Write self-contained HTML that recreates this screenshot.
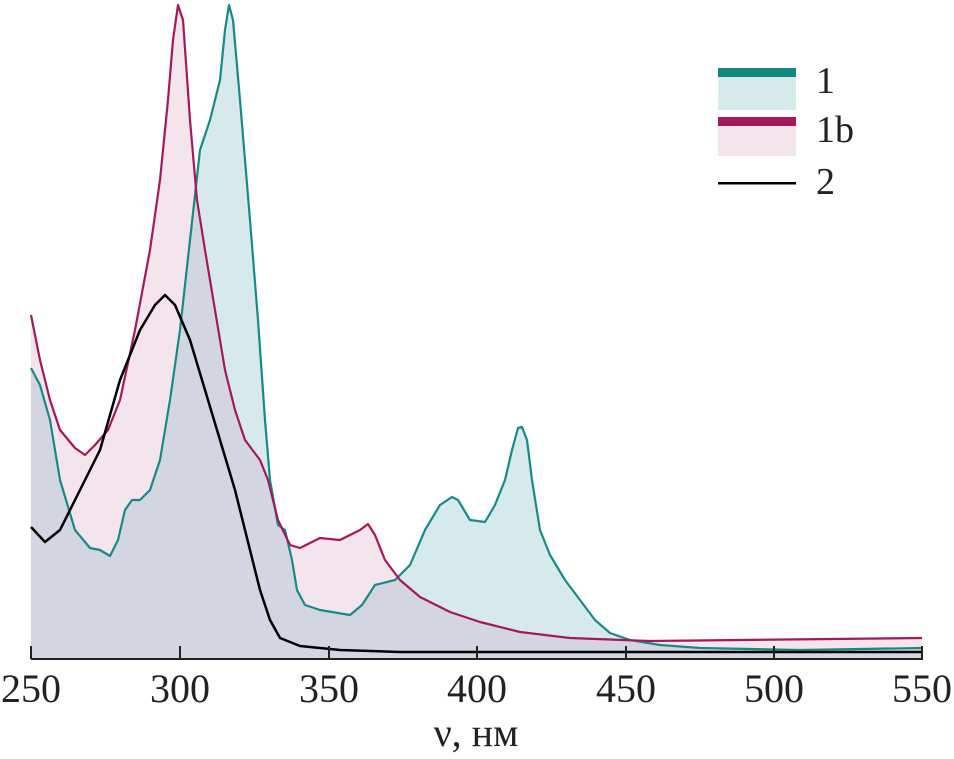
<!DOCTYPE html>
<html><head><meta charset="utf-8"><style>body{margin:0;background:#fff}</style></head><body>
<svg width="954" height="754" viewBox="0 0 954 754" xmlns="http://www.w3.org/2000/svg" style="font-family:'Liberation Serif',serif">
<defs>
<clipPath id="ct"><path id="tealArea" d="M31,659 L31,368 L40,385 L50,420 L60,480 L75,530 L90,548 L100,550 L110,556 L118,540 L125,510 L132,500 L140,500 L150,490 L160,460 L170,400 L180,330 L190,240 L200,150 L210,120 L220,80 L225,30 L229,5 L233,20 L240,100 L250,220 L258,320 L265,420 L270,480 L278,525 L285,530 L292,560 L297,590 L305,605 L320,610 L350,615 L362,605 L375,585 L395,580 L410,565 L425,530 L440,505 L452,497 L458,500 L470,520 L485,522 L495,505 L505,480 L512,450 L518,428 L522,427 L527,440 L532,480 L540,530 L550,555 L565,580 L580,600 L595,620 L610,633 L630,640 L660,645 L700,648 L800,650 L922,648 L922,659 Z"/></clipPath>
</defs>
<path d="M31,659 L31,368 L40,385 L50,420 L60,480 L75,530 L90,548 L100,550 L110,556 L118,540 L125,510 L132,500 L140,500 L150,490 L160,460 L170,400 L180,330 L190,240 L200,150 L210,120 L220,80 L225,30 L229,5 L233,20 L240,100 L250,220 L258,320 L265,420 L270,480 L278,525 L285,530 L292,560 L297,590 L305,605 L320,610 L350,615 L362,605 L375,585 L395,580 L410,565 L425,530 L440,505 L452,497 L458,500 L470,520 L485,522 L495,505 L505,480 L512,450 L518,428 L522,427 L527,440 L532,480 L540,530 L550,555 L565,580 L580,600 L595,620 L610,633 L630,640 L660,645 L700,648 L800,650 L922,648 L922,659 Z" fill="#d6eaeb"/>
<path id="pk" d="M31,659 L31,315 L40,360 L50,400 L60,430 L75,448 L85,455 L95,445 L108,430 L120,400 L135,330 L150,250 L160,180 L168,100 L173,40 L178,5 L183,20 L190,120 L197,200 L205,250 L215,310 L225,370 L235,410 L245,440 L260,460 L268,480 L278,520 L290,545 L300,548 L320,538 L340,540 L360,530 L368,524 L375,535 L385,560 L400,580 L420,597 L450,612 L480,622 L520,632 L570,638 L650,641 L922,638 L922,659 Z" fill="#f4e4ec"/>
<path d="M31,659 L31,315 L40,360 L50,400 L60,430 L75,448 L85,455 L95,445 L108,430 L120,400 L135,330 L150,250 L160,180 L168,100 L173,40 L178,5 L183,20 L190,120 L197,200 L205,250 L215,310 L225,370 L235,410 L245,440 L260,460 L268,480 L278,520 L290,545 L300,548 L320,538 L340,540 L360,530 L368,524 L375,535 L385,560 L400,580 L420,597 L450,612 L480,622 L520,632 L570,638 L650,641 L922,638 L922,659 Z" fill="#d3d6e0" clip-path="url(#ct)"/>
<g fill="none" stroke-width="2.2" stroke-linejoin="round">
<polyline stroke="#188a86" points="31,368 40,385 50,420 60,480 75,530 90,548 100,550 110,556 118,540 125,510 132,500 140,500 150,490 160,460 170,400 180,330 190,240 200,150 210,120 220,80 225,30 229,5 233,20 240,100 250,220 258,320 265,420 270,480 278,525 285,530 292,560 297,590 305,605 320,610 350,615 362,605 375,585 395,580 410,565 425,530 440,505 452,497 458,500 470,520 485,522 495,505 505,480 512,450 518,428 522,427 527,440 532,480 540,530 550,555 565,580 580,600 595,620 610,633 630,640 660,645 700,648 800,650 922,648"/>
<polyline stroke="#a3195b" points="31,315 40,360 50,400 60,430 75,448 85,455 95,445 108,430 120,400 135,330 150,250 160,180 168,100 173,40 178,5 183,20 190,120 197,200 205,250 215,310 225,370 235,410 245,440 260,460 268,480 278,520 290,545 300,548 320,538 340,540 360,530 368,524 375,535 385,560 400,580 420,597 450,612 480,622 520,632 570,638 650,641 922,638"/>
<polyline stroke="#000" stroke-width="2.5" points="31,527 45,542 60,530 80,490 100,450 120,380 140,330 155,305 165,295 175,305 190,340 205,390 220,440 235,490 250,550 260,590 270,620 280,638 300,646 340,650 400,652 922,652"/>
</g>
<g stroke="#222" stroke-width="2">
<line x1="31" y1="659" x2="923" y2="659"/>
<line x1="31" y1="646" x2="31" y2="659"/><line x1="180" y1="646" x2="180" y2="659"/><line x1="329" y1="646" x2="329" y2="659"/><line x1="477" y1="646" x2="477" y2="659"/><line x1="626" y1="646" x2="626" y2="659"/><line x1="774" y1="646" x2="774" y2="659"/><line x1="922" y1="646" x2="922" y2="659"/>
</g>
<g font-size="40" fill="#222" text-anchor="middle">
<text x="31" y="702">250</text><text x="180" y="702">300</text><text x="329" y="702">350</text><text x="477" y="702">400</text><text x="626" y="702">450</text><text x="774" y="702">500</text><text x="922" y="702">550</text>
<text x="476" y="746">ν, нм</text>
</g>
<rect x="718" y="77" width="78" height="33" fill="#d6eaeb"/><rect x="718" y="68" width="78" height="9" fill="#118782"/>
<rect x="718" y="126" width="78" height="30" fill="#f4e4ec"/><rect x="718" y="117" width="78" height="9" fill="#a3195b"/>
<rect x="718" y="182" width="78" height="2.5" fill="#000"/>
<g font-size="38" fill="#222"><text x="816" y="93">1</text><text x="816" y="142">1b</text><text x="816" y="194">2</text></g>
</svg>
</body></html>
